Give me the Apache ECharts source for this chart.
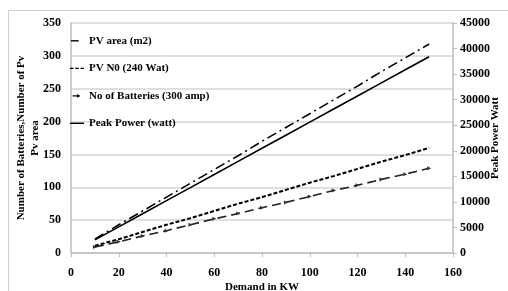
<!DOCTYPE html>
<html>
<head>
<meta charset="utf-8">
<script src="https://cdn.jsdelivr.net/npm/echarts@6/dist/echarts.min.js"></script>
<style>
  html, body { margin: 0; padding: 0; background: #fff; }
  #chart { width: 508px; height: 291px; }
</style>
</head>
<body>
<div id="chart"></div>
<script>
// values
var demand = [10, 20, 30, 40, 50, 60, 70, 80, 90, 100, 110, 120, 130, 140, 150]
var pvArea = [21, 43, 64, 85, 106, 127, 148, 170, 191, 212, 233, 254, 276, 297, 318]
var pvNo = [11, 21, 32, 43, 53, 64, 75, 85, 96, 107, 117, 128, 139, 149, 160]
var batteries = [9, 17, 26, 34, 43, 52, 60, 69, 77, 86, 95, 103, 112, 120, 129]
var peakPower = [2560, 5120, 7680, 10240, 12800, 15360, 17920, 20480, 23040, 25600, 28160, 30720, 33280, 35840, 38400]

function pairs(ys) {
  return ys.map(function (y, i) { return [demand[i], y] })
}

var font = 'Liberation Serif'
var titleStyle = { color: '#000', fontFamily: font, fontWeight: 'bold', fontSize: 11 }
var tickStyle = { color: '#000', fontFamily: font, fontWeight: 'bold', fontSize: 12 }
var plain = function (v) { return String(v) }

// legend keys drawn as paths; the first two moves fix the box to 16x10
var box = 'path://M0,0M16,10'
var keyShort = box + 'M1,4h9v1.6h-9z'
var keyDash = box + 'M0,4h4v1.6h-4zM6,4h4v1.6h-4zM12,4h4v1.6h-4z'
var keyArrow = box + 'M3,4.2h5v1.4h-5zM8,2.8l4,2.1l-4,2.1z'
var keyLine = box + 'M0,4h16v1.6h-16z'
var keyStyle = { color: '#000', borderWidth: 0 }
var keyLineStyle = { width: 0 }

var chart = echarts.init(document.getElementById('chart'))
chart.setOption({
  animation: false,
  grid: { left: 71, right: 55, top: 23, bottom: 38, outerBoundsMode: 'none' },
  graphic: [{
    type: 'rect',
    shape: { x: 8.5, y: 10.5, width: 520, height: 300 },
    style: { fill: 'none', stroke: '#cfcfcf', lineWidth: 1 }
  }],
  legend: {
    orient: 'vertical',
    left: 70,
    top: 35,
    padding: 0,
    itemWidth: 14,
    itemHeight: 10,
    itemGap: 15.5,
    textStyle: { color: '#000', fontFamily: font, fontWeight: 'bold', fontSize: 11, lineHeight: 12 },
    data: [
      { name: 'PV area (m2)', icon: keyShort, itemStyle: keyStyle, lineStyle: keyLineStyle },
      { name: 'PV N0 (240 Wat)', icon: keyDash, itemStyle: keyStyle, lineStyle: keyLineStyle },
      { name: 'No of Batteries (300 amp)', icon: keyArrow, itemStyle: keyStyle, lineStyle: keyLineStyle },
      { name: 'Peak Power (watt)', icon: keyLine, itemStyle: keyStyle, lineStyle: keyLineStyle }
    ]
  },
  xAxis: {
    type: 'value',
    min: 0,
    max: 160,
    interval: 20,
    name: 'Demand in KW',
    nameLocation: 'middle',
    nameGap: 29,
    nameMoveOverlap: false,
    nameTextStyle: titleStyle,
    axisLine: { lineStyle: { color: '#bdbdbd', width: 1.5 } },
    axisTick: { show: true, length: 4, lineStyle: { color: '#bdbdbd' } },
    axisLabel: Object.assign({ margin: 14, formatter: plain }, tickStyle),
    splitLine: { show: false }
  },
  yAxis: [{
    type: 'value',
    min: 0,
    max: 350,
    interval: 50,
    name: 'Number of Batteries,Number of Pv\nPv area',
    nameLocation: 'middle',
    nameGap: 29,
    nameMoveOverlap: false,
    nameTextStyle: Object.assign({ lineHeight: 14 }, titleStyle),
    axisLine: { show: true, lineStyle: { color: '#bdbdbd', width: 1.5 } },
    axisTick: { show: false },
    axisLabel: Object.assign({ margin: 10, formatter: plain }, tickStyle),
    splitLine: { lineStyle: { color: '#d4d4d4', width: 1.5 } }
  }, {
    type: 'value',
    min: 0,
    max: 45000,
    interval: 5000,
    name: 'Peak Power Watt',
    nameLocation: 'middle',
    nameGap: 37,
    nameRotate: 90,
    nameMoveOverlap: false,
    nameTextStyle: titleStyle,
    axisLine: { show: true, lineStyle: { color: '#bdbdbd', width: 1.5 } },
    axisTick: { show: true, length: 4, lineStyle: { color: '#bdbdbd' } },
    axisLabel: Object.assign({ margin: 7, formatter: plain }, tickStyle),
    splitLine: { show: false }
  }],
  series: [{
    name: 'PV area (m2)',
    type: 'line',
    data: pairs(pvArea),
    symbol: 'none',
    itemStyle: { color: '#000' },
    lineStyle: { color: '#000', width: 1.6, type: [10, 4, 2, 4] }
  }, {
    name: 'PV N0 (240 Wat)',
    type: 'line',
    data: pairs(pvNo),
    symbol: 'none',
    itemStyle: { color: '#000' },
    lineStyle: { color: '#000', width: 2, type: [4, 2] }
  }, {
    name: 'No of Batteries (300 amp)',
    type: 'line',
    data: pairs(batteries),
    symbol: 'triangle',
    symbolSize: 4,
    symbolRotate: -90,
    itemStyle: { color: '#333' },
    lineStyle: { color: '#222', width: 1.6, type: [9, 5] }
  }, {
    name: 'Peak Power (watt)',
    type: 'line',
    yAxisIndex: 1,
    data: pairs(peakPower),
    symbol: 'none',
    itemStyle: { color: '#000' },
    lineStyle: { color: '#000', width: 1.6 }
  }]
})
</script>
</body>
</html>
